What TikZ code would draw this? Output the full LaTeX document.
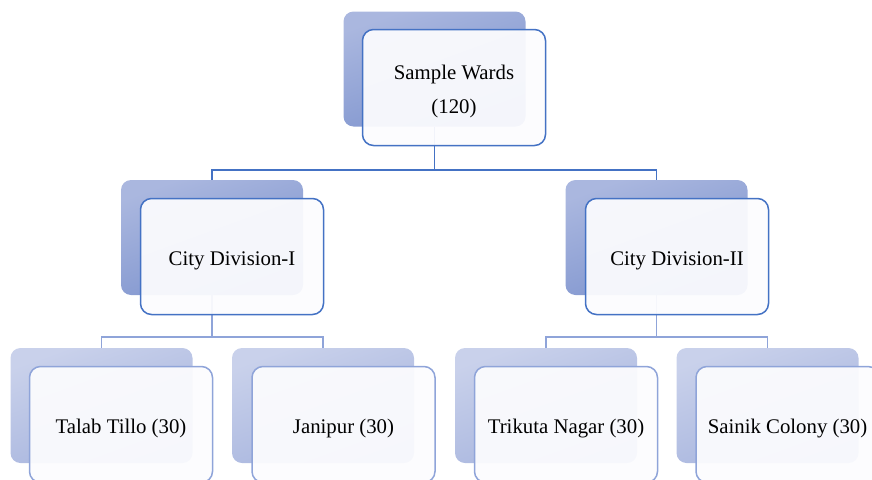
\documentclass[tikz,border=0pt]{standalone}
\usepackage{fontspec}
\setmainfont{Liberation Serif}
\usetikzlibrary{backgrounds}
\definecolor{backTopA}{HTML}{AAB7DF}
\definecolor{backBotA}{HTML}{7C92CD}
\definecolor{backTopB}{HTML}{C9D1EB}
\definecolor{backBotB}{HTML}{A5B3DD}
\definecolor{lineA}{HTML}{4472C4}
\definecolor{lineB}{HTML}{8FA4D9}
\definecolor{frontFill}{HTML}{FCFCFE}
\newcommand\lowtext[1]{\raisebox{-4pt}[\height][\depth]{#1}}
\tikzset{
  x=1pt, y=-1pt,
  backA/.style={rectangle, rounded corners=10pt, minimum width=182pt, minimum height=115pt, inner sep=0pt,
    top color=backTopA, bottom color=backBotA, shading angle=20},
  backB/.style={rectangle, rounded corners=10pt, minimum width=182pt, minimum height=115pt, inner sep=0pt,
    top color=backTopB, bottom color=backBotB, shading angle=20},
  frontA/.style={rectangle, rounded corners=11pt, minimum width=183pt, minimum height=116pt, inner sep=0pt,
    draw=lineA, line width=1.5pt, fill=frontFill, fill opacity=0.94, draw opacity=1, text opacity=1, align=center,
    font=\fontsize{20.8}{34}\selectfont},
  frontB/.style={frontA, draw=lineB},
  connA/.style={draw=lineA, line width=1.5pt},
  connB/.style={draw=lineB, line width=1.5pt},
}
\begin{document}
\begin{tikzpicture}
\clip (0,0) rectangle (872,479);
\useasboundingbox (0,0) rectangle (872,479);
% level 1
\node[backA] (topB) at (434.5,69) {};
\node[frontA] (topF) at (454,87.5) {\lowtext{Sample Wards}\\\lowtext{(120)}};
% level 2
\node[backA] (d1B) at (212,237.5) {};
\node[frontA] (d1F) at (232,256.5) {\lowtext{City Division-I}};
\node[backA] (d2B) at (656.5,237.5) {};
\node[frontA] (d2F) at (677,256.5) {\lowtext{City Division-II}};
% level 3
\node[backB] (l1B) at (101.5,405.5) {};
\node[frontB] (l1F) at (121,424.5) {\lowtext{Talab Tillo (30)}};
\node[backB] (l2B) at (323,405.5) {};
\node[frontB] (l2F) at (343.5,424.5) {\lowtext{Janipur (30)}};
\node[backB] (r1B) at (546,405.5) {};
\node[frontB] (r1F) at (566,424.5) {\lowtext{Trikuta Nagar (30)}};
\node[backB] (r2B) at (767.5,405.5) {};
\node[frontB] (r2F) at (787.5,424.5) {\lowtext{Sainik Colony (30)}};
% connectors
\coordinate (j0) at (434.5,170);
\coordinate (j1) at (212,337);
\coordinate (j2) at (656.5,337);
\begin{scope}[on background layer]
\draw[connA] (topB.south) -- (j0) -| (d1B.north);
\draw[connA] (j0) -| (d2B.north);
\draw[connB] (d1B.south) -- (j1) -| (l1B.north);
\draw[connB] (j1) -| (l2B.north);
\draw[connB] (d2B.south) -- (j2) -| (r1B.north);
\draw[connB] (j2) -| (r2B.north);
\end{scope}
\end{tikzpicture}
\end{document}
